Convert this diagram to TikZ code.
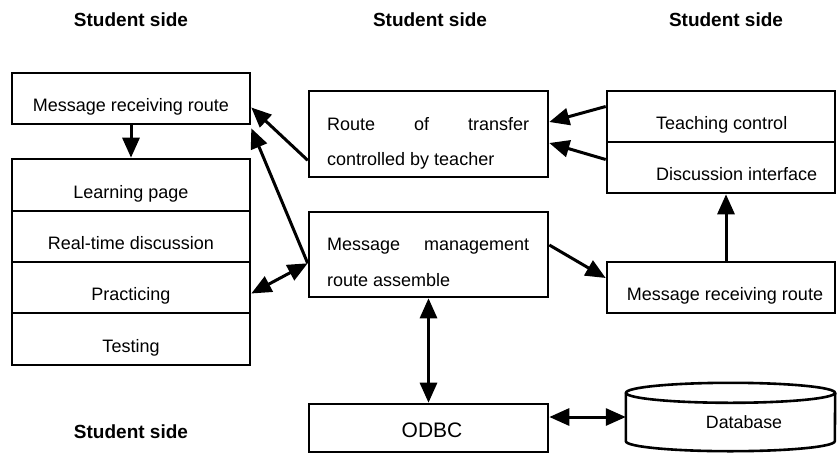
\documentclass[tikz,border=0pt]{standalone}
\usepackage{fontspec}
\setmainfont{Liberation Sans}
\usetikzlibrary{arrows.meta}
\begin{document}
\begin{tikzpicture}[x=1pt,y=-1pt,
  box/.style={draw, line width=2.6pt, inner sep=0pt, minimum width=238pt, minimum height=51pt},
  txt/.style={inner sep=0pt, anchor=base, font=\fontsize{18}{20}\selectfont},
  ltxt/.style={txt, anchor=base west},
  head/.style={inner sep=0pt, anchor=base, font=\fontsize{19}{22}\selectfont\bfseries},
  tip/.style={Triangle[length=20pt,width=17pt]},
  link/.style={line width=3pt, -{Triangle[length=20pt,width=17pt]}},
  link2/.style={line width=3pt, {Triangle[length=20pt,width=17pt]}-{Triangle[length=20pt,width=17pt]}},
]
\useasboundingbox (0,0) rectangle (837,455);

% side headings
\node[head] (h1) at (131,26) {Student side};
\node[head] (h2) at (430,26) {Student side};
\node[head] (h3) at (726,26) {Student side};
\node[head] (h4) at (131,438) {Student side};

% left column: receiving route and the student pages
\node[box] (mrrL) at (131,98.5) {};
\node[txt] (mrrLt) at (131,111.5) {Message receiving route};
\node[box, minimum height=52pt] (learn) at (131,185) {};
\node[txt] (learnt) at (131,198) {Learning page};
\node[box] (rtd) at (131,236.5) {};
\node[txt] (rtdt) at (131,249.5) {Real-time discussion};
\node[box] (prac) at (131,287.5) {};
\node[txt] (pract) at (131,300.5) {Practicing};
\node[box, minimum height=52pt] (test) at (131,339) {};
\node[txt] (testt) at (131,352) {Testing};

% middle column
\node[box, minimum width=239pt, minimum height=86pt] (route) at (428.5,134) {};
\node[ltxt] (route1) at (327,130) {\hbox to 202pt{Route\hfill of\hfill transfer}};
\node[ltxt] (route2) at (327,165) {controlled by teacher};
\node[box, minimum width=239pt, minimum height=85pt] (mm) at (428.5,254.5) {};
\node[ltxt] (mm1) at (327,250) {\hbox to 202pt{Message\hfill management}};
\node[ltxt] (mm2) at (327,286) {route assemble};
\node[box, minimum width=239pt, minimum height=48pt] (odbc) at (428.5,428) {};
\node[txt, font=\fontsize{21}{24}\selectfont] (odbct) at (432,437.5) {ODBC};

% right column
\node[box, minimum width=228pt] (tc) at (721,116.5) {};
\node[ltxt] (tct) at (656,129.5) {Teaching control};
\node[box, minimum width=228pt] (di) at (721,167.5) {};
\node[ltxt] (dit) at (656,180.5) {Discussion interface};
\node[box, minimum width=228pt] (mrrR) at (721,287.5) {};
\node[txt] (mrrRt) at (725,300.5) {Message receiving route};

% database cylinder
\node[inner sep=0pt, minimum width=209pt, minimum height=48pt] (db) at (730.5,417) {};
\draw[line width=2.6pt] (db.north west) -- (db.south west)
  arc[start angle=180, end angle=360, x radius=104.5pt, y radius=10pt]
  -- (db.north east);
\draw[line width=2.6pt] (db.north) ellipse[x radius=104.5pt, y radius=10pt];
\node[txt, font=\fontsize{17.8}{20}\selectfont] (dbt) at (744,428.5) {Database};

% connectors
\draw[link] (mrrL.south) -- (learn.north);
\draw[link] ([yshift=18pt]route.south west) -- ([yshift=-9pt]mrrL.east);
\draw[link] ([yshift=35pt]mm.south west) -- ([yshift=-3pt]mrrL.south east);
\draw[link2] ([yshift=-6pt]prac.east) -- ([yshift=35pt]mm.south west);
\draw[link] ([yshift=10pt]tc.west) -- ([yshift=12pt]route.east);
\draw[link] ([yshift=8pt]di.west) -- ([yshift=-9pt]route.east);
\draw[link] ([yshift=9.5pt]mm.east) -- ([yshift=9.5pt]mrrR.west);
\draw[link] ([xshift=5pt]mrrR.north) -- ([xshift=5pt]di.south);
\draw[link2] (mm.south) -- (odbc.north);
\draw[link2] (odbc.east |- db.west) -- (db.west);
\end{tikzpicture}
\end{document}
